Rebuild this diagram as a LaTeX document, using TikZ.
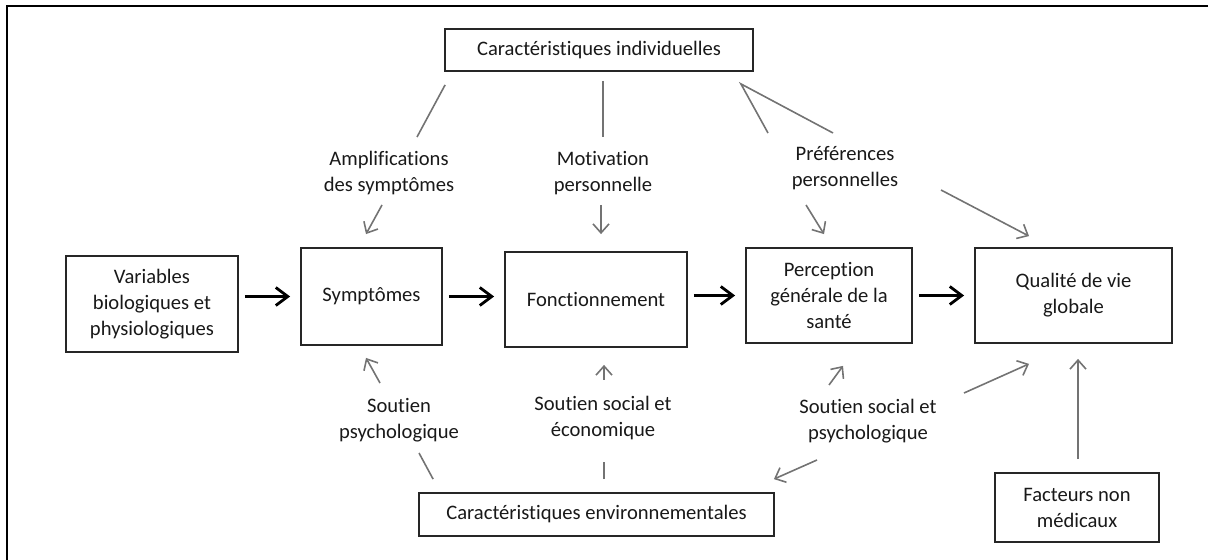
\documentclass[tikz,border=0pt]{standalone}
\usepackage{fontspec}
\setmainfont{Carlito}[Ligatures=NoCommon]
\usetikzlibrary{arrows.meta}

\begin{document}
\begin{tikzpicture}[
  x=0.5pt,y=-0.5pt,
  every node/.style={font=\fontsize{10.3}{13}\selectfont,text=black!90,align=center},
  box/.style={draw=black!85,line width=0.9pt,inner sep=2pt},
  lbl/.style={inner sep=1pt},
  mainarrow/.style={draw=black,line width=1.4pt,shorten <=3pt,shorten >=5pt,
    -{Straight Barb[length=6pt,width=9pt]}},
  gline/.style={draw=black!55,line width=0.8pt},
  garrow/.style={gline,-{Straight Barb[length=4.5pt,width=8pt]}},
  ]
  \useasboundingbox (0,0) rectangle (1209,560);
  \draw[line width=1.3pt] (1208,6) -- (7,6) -- (7,560);

  % boxes
  \node[box,minimum width=86pt,minimum height=48pt](var) at (152,304)
    {Variables\\biologiques et\\physiologiques};
  \node[box,minimum width=70.5pt,minimum height=48.5pt](symp) at (371.5,296.5){Symptômes};
  \node[box,minimum width=91pt,minimum height=47.5pt](fonct) at (596,299.5){Fonctionnement};
  \node[box,minimum width=83pt,minimum height=47.5pt](perc) at (829,295.5)
    {Perception\\générale de la\\santé};
  \node[box,minimum width=98.5pt,minimum height=47.5pt](qual) at (1073.5,295.5)
    {Qualité de vie\\globale};
  \node[box,minimum width=154pt,minimum height=21pt](indiv) at (599,50)
    {Caractéristiques individuelles};
  \node[box,minimum width=177.5pt,minimum height=21.5pt](envir) at (596.5,514.5)
    {Caractéristiques environnementales};
  \node[box,minimum width=82pt,minimum height=34.5pt](fact) at (1077,507.5)
    {Facteurs non\\médicaux};

  % labels
  \node[lbl](amplif) at (389,173){Amplifications\\des symptômes};
  \node[lbl](motiv) at (603,173){Motivation\\personnelle};
  \node[lbl](prefer) at (845,168){Préférences\\personnelles};
  \node[lbl](soutpsy) at (399,420){Soutien\\psychologique};
  \node[lbl](soutsoc) at (603,418){Soutien social et\\économique};
  \node[lbl](soutsocpsy) at (868,421){Soutien social et\\psychologique};

  % main chain
  \draw[mainarrow] (var.east |- symp) -- (symp.west);
  \draw[mainarrow] (symp.east) -- (symp.east -| fonct.west);
  \draw[mainarrow] (fonct.east |- perc) -- (perc.west);
  \draw[mainarrow] (perc.east) -- (perc.east -| qual.west);

  % individual characteristics
  \draw[gline] ([shift={(1,13)}]indiv.south west) -- ([shift={(28,-36)}]amplif.center);
  \draw[garrow] ([shift={(-7,32)}]amplif.center) -- ([shift={(-5.5,-13)}]symp.north);
  \draw[gline] ([shift={(4,9)}]indiv.south) -- ([shift={(0,-36)}]motiv.center);
  \draw[garrow] ([shift={(-2,32)}]motiv.center) -- ([shift={(5,-17)}]fonct.north);
  \draw[gline] ([shift={(-77,-35)}]prefer.center) -- ([shift={(-13,12)}]indiv.south east)
    -- ([shift={(-12,-35)}]prefer.center);
  \draw[garrow] ([shift={(-39,37)}]prefer.center) -- ([shift={(-5,-13)}]perc.north);
  \draw[garrow] ([shift={(96,22)}]prefer.center) -- ([shift={(-44.5,-11)}]qual.north);

  % environmental characteristics
  \draw[garrow] ([shift={(-19,-37)}]soutpsy.center) -- ([shift={(-5.5,12)}]symp.south);
  \draw[gline] ([shift={(15,-13)}]envir.north west) -- ([shift={(20,33)}]soutpsy.center);
  \draw[garrow] ([shift={(1,-38)}]soutsoc.center) -- ([shift={(8,17)}]fonct.south);
  \draw[gline] ([shift={(7.5,-13)}]envir.north) -- ([shift={(1,44)}]soutsoc.center);
  \draw[garrow] ([shift={(-39,-36)}]soutsocpsy.center) -- ([shift={(14,22)}]perc.south);
  \draw[garrow] ([shift={(-51,39)}]soutsocpsy.center) -- ([shift={(-1,-13)}]envir.north east);
  \draw[garrow] ([shift={(96,-28)}]soutsocpsy.center) -- ([shift={(-44.5,20)}]qual.south);

  % non-medical factors
  \draw[garrow] ([shift={(1,-13)}]fact.north) -- ([shift={(4.5,15)}]qual.south);
\end{tikzpicture}
\end{document}
